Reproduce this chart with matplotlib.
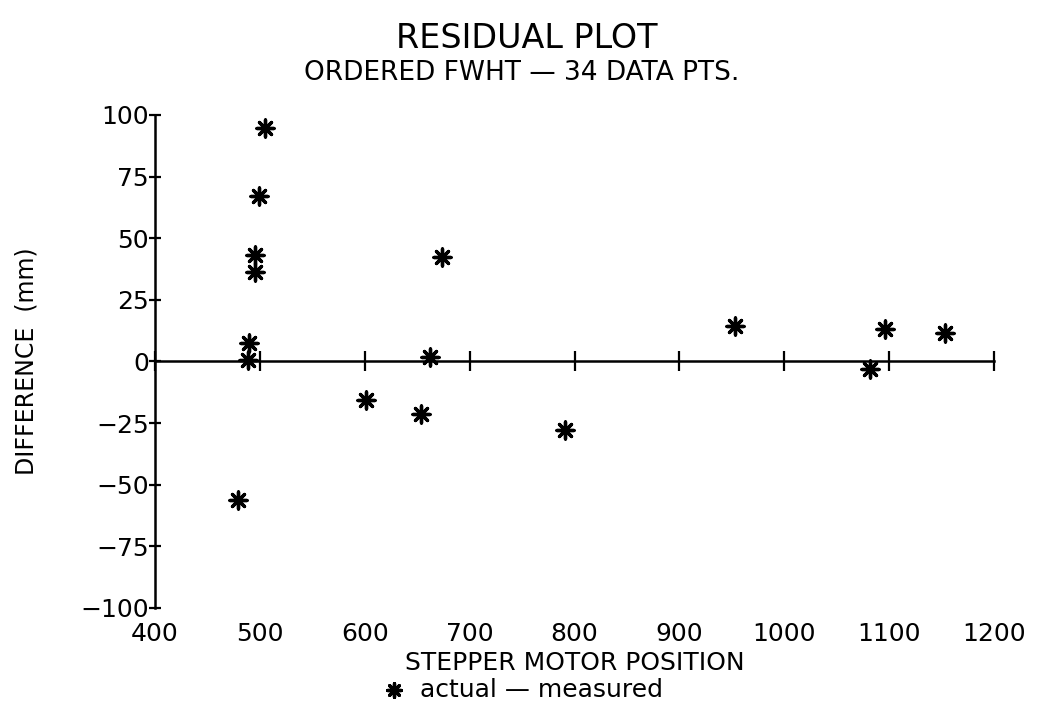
import matplotlib
matplotlib.use("Agg")
import matplotlib.pyplot as plt

# residuals (many of the 34 points overlap)
position = [505, 499, 495, 495, 490, 489, 479, 674, 662, 601, 654, 791,
            953, 1096, 1153, 1082]
difference = [94.7, 67.0, 43.0, 36.2, 7.6, 0.7, -56.1, 42.3, 2.0, -15.5,
              -21.5, -27.6, 14.3, 13.0, 11.6, -3.2]

x_ticks = [400, 500, 600, 700, 800, 900, 1000, 1100, 1200]
y_ticks = [-100, -75, -50, -25, 0, 25, 50, 75, 100]

plt.rcParams['font.family'] = ['DejaVu Sans']

fig = plt.figure(figsize=(10.39, 7.09), dpi=100)
ax = fig.add_axes([0.1492, 0.1425, 0.8075, 0.6953])

ax.scatter(position, difference, marker=(8, 2, 0), s=150, c='black',
           linewidths=2.4, label='actual \u2014 measured', zorder=3)

ax.set_xlim(400, 1200)
ax.set_ylim(-100, 100)

# axis lines: y axis at left, x axis through zero
for side in ['top', 'right']:
    ax.spines[side].set_visible(False)
ax.spines['bottom'].set_position(('data', 0))
ax.spines['left'].set_linewidth(1.8)
ax.spines['bottom'].set_linewidth(1.8)

ax.set_yticks(y_ticks)
ax.set_yticklabels([str(v).replace('-', '\u2212') for v in y_ticks])
ax.tick_params(axis='y', direction='inout', length=9, width=1.6,
               labelsize=18, pad=0)

ax.set_xticks(x_ticks)
ax.tick_params(axis='x', direction='inout', length=14, width=1.6,
               labelbottom=False)

# x tick labels sit at the bottom of the frame
sec = ax.secondary_xaxis(0)
sec.spines['bottom'].set_visible(False)
sec.set_xticks(x_ticks)
sec.tick_params(axis='x', length=0, labelsize=18, pad=10)
sec.set_xlabel('STEPPER MOTOR POSITION', fontsize=18, labelpad=4)

ax.set_ylabel('DIFFERENCE  (mm)', fontsize=17, labelpad=30)

fig.text(0.507, 0.946, 'RESIDUAL PLOT', ha='center', va='center',
         fontsize=24)
fig.text(0.502, 0.897, 'ORDERED FWHT \u2014 34 DATA PTS.', ha='center',
         va='center', fontsize=19)

fig.legend(loc='center', bbox_to_anchor=(0.5, 0.027), frameon=False,
           fontsize=18, handletextpad=0.3, handlelength=1.5, markerscale=0.8)

fig.savefig('out.png', dpi=100, facecolor='white')
